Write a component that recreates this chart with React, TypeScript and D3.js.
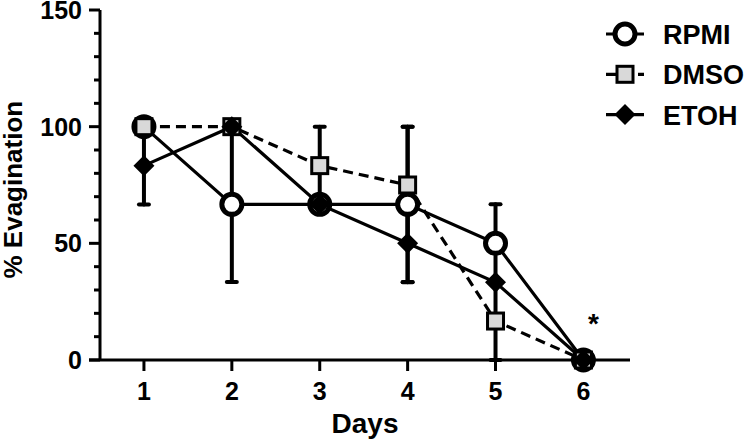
import React from "react";
import * as d3 from "d3";

const days = [1, 2, 3, 4, 5, 6];
const rpmi = [100, 66.7, 66.7, 66.7, 50, 0];
const rpmiErr = [0, 33.3, 0, 33.3, 16.7, 0];
const dmso = [100, 100, 83.3, 75, 16.7, 0];
const dmsoErr = [0, 0, 16.7, 25, 16.7, 0];
const etoh = [83.3, 100, 66.7, 50, 33.3, 0];
const etohErr = [16.7, 0, 0, 16.7, 0, 0];
const yTicks = [0, 50, 100, 150];
const seriesNames = ["RPMI", "DMSO", "ETOH"];
const annotationDay = 6;

const width = 750;
const height = 440;
const font = "Arial, 'Liberation Sans', sans-serif";

type Series = { name: string; values: number[]; errs: number[]; dashed: boolean; marker: string };

const series: Series[] = [
  { name: seriesNames[0], values: rpmi, errs: rpmiErr, dashed: false, marker: "circle" },
  { name: seriesNames[1], values: dmso, errs: dmsoErr, dashed: true, marker: "square" },
  { name: seriesNames[2], values: etoh, errs: etohErr, dashed: false, marker: "diamond" },
];

const Marker = ({ type, x, y }: { type: string; x: number; y: number }) => {
  if (type === "circle") {
    return <circle cx={x} cy={y} r={10} fill="white" stroke="black" strokeWidth={5} />;
  }
  if (type === "square") {
    return <rect x={x - 8} y={y - 8} width={16} height={16} fill="#d9d9d9" stroke="black" strokeWidth={3} />;
  }
  const d = 10.5;
  return <path d={`M${x},${y - d}L${x + d},${y}L${x},${y + d}L${x - d},${y}Z`} fill="black" />;
};

const App = () => {
  const xScale = d3.scaleLinear().domain([0.5, 6.53]).range([100, 630]);
  const yScale = d3.scaleLinear().domain([0, 150]).range([360, 10]);
  const minorTicks = d3.range(0, 151, 10);

  const line = d3
    .line<number>()
    .x((_, i) => xScale(days[i]))
    .y((v) => yScale(v));

  return (
    <svg width={width} height={height} style={{ position: "absolute", left: 0, top: 0, background: "white" }}>
      {/* Y axis */}
      <g>
        <line x1={100} x2={100} y1={yScale(150)} y2={yScale(0)} stroke="black" strokeWidth={3} />
        {minorTicks.map((t) => (
          <line
            key={t}
            x1={yTicks.includes(t) ? 89 : 94}
            x2={100}
            y1={yScale(t)}
            y2={yScale(t)}
            stroke="black"
            strokeWidth={3}
          />
        ))}
        {yTicks.map((t) => (
          <text
            key={t}
            x={82}
            y={yScale(t)}
            dy="0.36em"
            textAnchor="end"
            fontFamily={font}
            fontWeight="bold"
            fontSize={25}
          >
            {t}
          </text>
        ))}
        <text
          transform={`translate(22, ${yScale(73)}) rotate(-90)`}
          textAnchor="middle"
          fontFamily={font}
          fontWeight="bold"
          fontSize={26}
        >
          % Evagination
        </text>
      </g>

      {/* X axis */}
      <g>
        <line x1={89} x2={630} y1={yScale(0)} y2={yScale(0)} stroke="black" strokeWidth={3} />
        {days.map((d) => (
          <g key={d}>
            <line x1={xScale(d)} x2={xScale(d)} y1={yScale(0)} y2={yScale(0) + 11} stroke="black" strokeWidth={3} />
            <text x={xScale(d)} y={400} textAnchor="middle" fontFamily={font} fontWeight="bold" fontSize={25}>
              {d}
            </text>
          </g>
        ))}
        <text x={365} y={433} textAnchor="middle" fontFamily={font} fontWeight="bold" fontSize={28}>
          Days
        </text>
      </g>

      {/* Lines */}
      {series.map((s) => (
        <path
          key={s.name}
          d={line(s.values) || ""}
          fill="none"
          stroke="black"
          strokeWidth={3.2}
          strokeDasharray={s.dashed ? "10,6" : undefined}
        />
      ))}

      {/* Error bars */}
      {series.map((s) =>
        s.values.map((v, i) =>
          s.errs[i] > 0 ? (
            <g key={`${s.name}-e${i}`} stroke="black" strokeWidth={4} strokeLinecap="round">
              <line x1={xScale(days[i])} x2={xScale(days[i])} y1={yScale(v + s.errs[i])} y2={yScale(v - s.errs[i])} />
              <line x1={xScale(days[i]) - 5} x2={xScale(days[i]) + 5} y1={yScale(v + s.errs[i])} y2={yScale(v + s.errs[i])} />
              <line x1={xScale(days[i]) - 5} x2={xScale(days[i]) + 5} y1={yScale(v - s.errs[i])} y2={yScale(v - s.errs[i])} />
            </g>
          ) : null
        )
      )}

      {/* Markers */}
      {series.map((s) =>
        s.values.map((v, i) => <Marker key={`${s.name}-m${i}`} type={s.marker} x={xScale(days[i])} y={yScale(v)} />)
      )}

      {/* Significance */}
      <text x={xScale(annotationDay) + 10} y={333} textAnchor="middle" fontFamily={font} fontWeight="bold" fontSize={28}>
        *
      </text>

      {/* Legend */}
      {series.map((s, i) => {
        const cy = 34 + i * 40.3;
        return (
          <g key={`leg-${s.name}`}>
            <line
              x1={606}
              x2={644}
              y1={cy}
              y2={cy}
              stroke="black"
              strokeWidth={3.2}
              strokeDasharray={s.dashed ? "10,6" : undefined}
            />
            <Marker type={s.marker} x={625} y={cy} />
            <text x={663} y={cy + 10} fontFamily={font} fontWeight="bold" fontSize={27}>
              {s.name}
            </text>
          </g>
        );
      })}
    </svg>
  );
};

export default App;
